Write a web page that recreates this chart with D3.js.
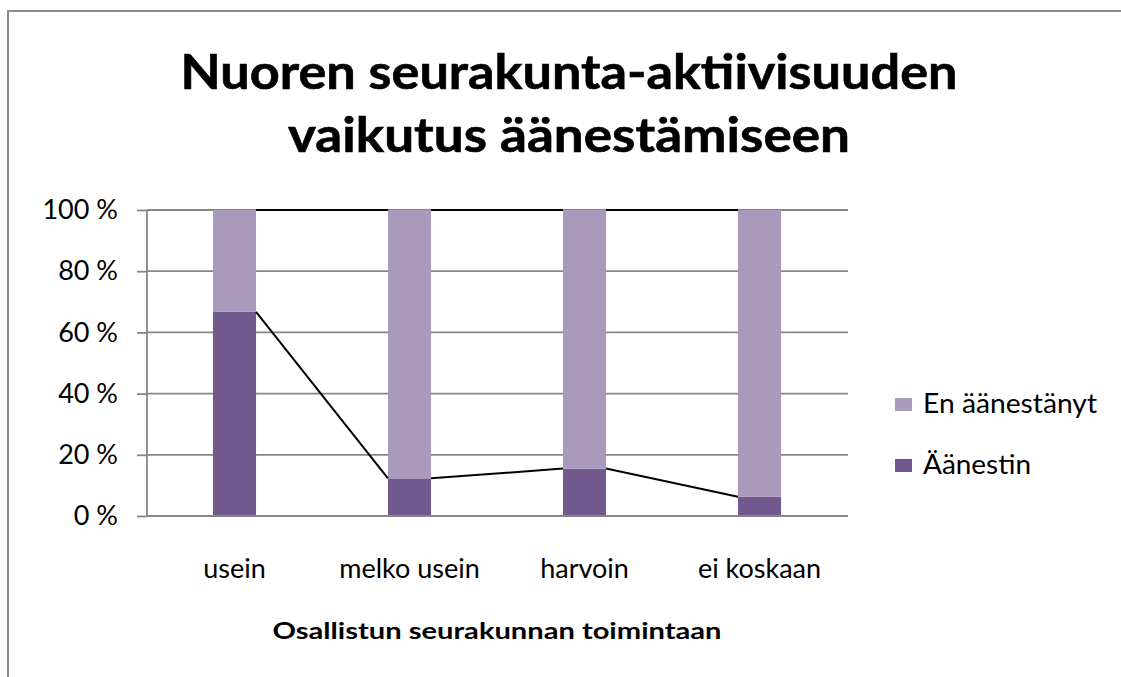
<!DOCTYPE html>
<html>
<head>
<meta charset="utf-8">
<script src="https://cdn.jsdelivr.net/npm/d3@7"></script>
<style>
  body { margin: 0; background: #fff; }
  svg { display: block; font-family: Lato, "Open Sans", sans-serif; }
</style>
</head>
<body>
<div id="chart"></div>
<script>
// data
const categories = ["usein", "melko usein", "harvoin", "ei koskaan"];
const aanestin = [66.7, 12.3, 15.5, 6.3];
const enAanestanyt = [33.3, 87.7, 84.5, 93.7];
const seriesNames = ["Äänestin", "En äänestänyt"];
const yTicks = [0, 20, 40, 60, 80, 100];
const titleLines = ["Nuoren seurakunta-aktiivisuuden", "vaikutus äänestämiseen"];
const xTitle = "Osallistun seurakunnan toimintaan";

const W = 1121, H = 677;
const colors = { "Äänestin": "#71598e", "En äänestänyt": "#a99abd" };
const gridColor = "#868686";

const rows = categories.map((c, i) => ({
    cat: c,
    "Äänestin": aanestin[i],
    "En äänestänyt": enAanestanyt[i]
}));

const svg = d3.select("#chart")
    .append("svg")
    .attr("width", W)
    .attr("height", H);

// chart border (only left and top visible)
svg.append("path")
    .attr("d", "M8," + H + "V11H" + W)
    .attr("fill", "none")
    .attr("stroke", "#8c8c8c")
    .attr("stroke-width", 2);

// title
const titleY = [89, 152];
const titleW = [777, 562];
svg.selectAll("text.title")
    .data(titleLines)
    .join("text")
    .attr("class", "title")
    .attr("x", 569)
    .attr("y", (d, i) => titleY[i])
    .attr("text-anchor", "middle")
    .attr("font-size", 47)
    .attr("font-weight", "bold")
    .attr("stroke", "#000")
    .attr("stroke-width", 0.6)
    .attr("textLength", (d, i) => titleW[i])
    .attr("lengthAdjust", "spacingAndGlyphs")
    .text(d => d);

const x = d3.scaleBand()
    .domain(categories)
    .range([147, 847])
    .paddingInner(0.754)
    .paddingOuter(0.377);

const y = d3.scaleLinear()
    .domain([0, 100])
    .range([516, 210]);

// gridlines
svg.append("g")
    .selectAll("line")
    .data(yTicks)
    .join("line")
    .attr("x1", 147)
    .attr("x2", 848)
    .attr("y1", d => y(d))
    .attr("y2", d => y(d))
    .attr("stroke", gridColor)
    .attr("stroke-width", 1.8);

// stacked bars
const stack = d3.stack().keys(seriesNames);
const layers = stack(rows);

svg.append("g")
    .selectAll("g")
    .data(layers)
    .join("g")
    .attr("fill", d => colors[d.key])
    .selectAll("rect")
    .data(d => d)
    .join("rect")
    .attr("x", d => x(d.data.cat))
    .attr("width", x.bandwidth())
    .attr("y", d => y(d[1]))
    .attr("height", d => y(d[0]) - y(d[1]));

// series lines between the bars
const line = d3.line().x(d => d[0]).y(d => d[1]);
layers.forEach(layer => {
    for (let i = 0; i < layer.length - 1; i++) {
        const a = layer[i], b = layer[i + 1];
        svg.append("path")
            .attr("d", line([
                [x(a.data.cat) + x.bandwidth(), y(a[1])],
                [x(b.data.cat), y(b[1])]
            ]))
            .attr("fill", "none")
            .attr("stroke", "#000")
            .attr("stroke-width", 2);
    }
});

// y axis
const yAxis = d3.axisLeft(y)
    .tickValues(yTicks)
    .tickSize(10)
    .tickPadding(19)
    .tickFormat(d => d + " %");

const gy = svg.append("g")
    .attr("transform", "translate(147,0)")
    .call(yAxis);
gy.selectAll("path, line").attr("stroke", gridColor).attr("stroke-width", 1.8);
gy.select(".domain").attr("d", "M0," + y(0) + "V" + y(100));
gy.selectAll("text")
    .attr("font-family", "Lato, sans-serif")
    .attr("font-size", 27)
    .attr("fill", "#000");

// x axis
const xAxis = d3.axisBottom(x)
    .tickSize(0)
    .tickPadding(43);

const gx = svg.append("g")
    .attr("transform", "translate(0,516)")
    .call(xAxis);
gx.select(".domain").attr("d", "M147,0H848").attr("stroke", gridColor).attr("stroke-width", 1.8);
gx.selectAll("text")
    .attr("font-family", "Lato, sans-serif")
    .attr("font-size", 27)
    .attr("fill", "#000");

// x axis title
svg.append("text")
    .attr("x", 497)
    .attr("y", 639)
    .attr("text-anchor", "middle")
    .attr("font-size", 23)
    .attr("font-weight", "bold")
    .attr("textLength", 449)
    .attr("lengthAdjust", "spacingAndGlyphs")
    .text(xTitle);

// legend (top series first)
const legendItems = seriesNames.slice().reverse();
const legend = svg.append("g")
    .selectAll("g")
    .data(legendItems)
    .join("g")
    .attr("transform", (d, i) => "translate(895," + (398 + i * 61) + ")");

legend.append("rect")
    .attr("width", 17)
    .attr("height", 13)
    .attr("fill", d => colors[d]);

legend.append("text")
    .attr("x", 28)
    .attr("y", 15)
    .attr("font-size", 27)
    .attr("textLength", (d, i) => i === 0 ? 174 : 108)
    .attr("lengthAdjust", "spacingAndGlyphs")
    .text(d => d);
</script>
</body>
</html>
